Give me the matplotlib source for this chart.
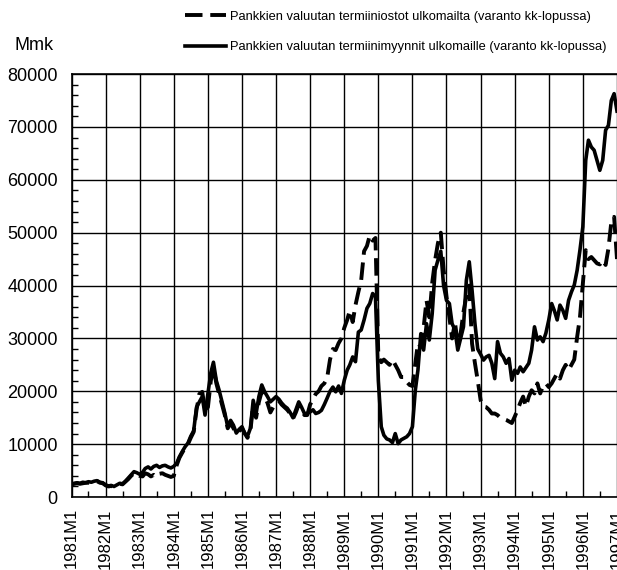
import matplotlib
matplotlib.use("Agg")
import matplotlib.pyplot as plt
import pandas as pd
from matplotlib.ticker import MultipleLocator

plt.rcParams["font.family"] = ["Liberation Sans", "DejaVu Sans"]

# month-end stock, Mmk, 1981M1 .. 1997M1
months = pd.date_range("1981-01-01", "1997-01-01", freq="MS")

purchases = [  # termiiniostot ulkomailta (dashed)
    2400, 2500, 2600, 2500, 2600, 2700, 2700, 2800, 2900, 3000, 2700, 2600,
    2200, 2000, 2100, 1900, 2200, 2500, 2400, 2900, 3400, 4000, 4500, 4400,
    4000, 3900, 4500, 4300, 3900, 4200, 3800, 4400, 4500, 4200, 4000, 3800,
    4000, 6000, 7400, 8400, 9300, 10000, 11200, 12300, 16500, 19500, 19900, 16400,
    17000, 22000, 24500, 21500, 19500, 17500, 15500, 13000, 14000, 13000, 12000, 12500,
    13000, 12000, 11200, 12500, 17500, 15000, 18000, 20000, 19000, 17800, 16000, 17000,
    18000, 18200, 17500, 17000, 16500, 15800, 14800, 16000, 17500, 16500, 15500, 15500,
    17500, 18500, 19500, 20000, 21000, 21500, 22500, 26000, 28000, 27800, 29100, 30000,
    32000, 33500, 35300, 33100, 36300, 38800, 41000, 46500, 47500, 49500, 48500, 49000,
    26500, 25500, 26000, 25500, 25000, 26000, 25000, 24000, 22700, 22700, 21800, 21200,
    21000, 25300, 29100, 28400, 32000, 37200, 34000, 40500, 44800, 48000, 50000, 43000,
    38000, 34000, 30000, 33000, 29000, 31000, 35000, 38000, 40000, 29000, 25300, 22000,
    18300, 17100, 17000, 16500, 15800, 15800, 15500, 15000, 14800, 14600, 14300, 14000,
    15200, 16500, 17800, 19000, 17100, 19000, 20200, 19600, 21500, 19600, 21000, 21500,
    20800, 21500, 22400, 23400, 22400, 24000, 25000, 24000, 25000, 26000, 30300, 34000,
    40400, 46700, 45000, 45400, 44800, 44200, 44000, 44800, 43900, 47000, 52000, 53000,
    45000,
]

sales = [  # termiinimyynnit ulkomaille (solid)
    2500, 2600, 2700, 2600, 2800, 2700, 2900, 2800, 3000, 3100, 2800, 2700,
    2300, 2100, 2200, 2000, 2300, 2600, 2500, 3000, 3600, 4200, 4800, 4600,
    4300, 4700, 5400, 5700, 5300, 5800, 6000, 5600, 5900, 6000, 5700, 5500,
    5800, 6400, 7600, 8600, 9500, 10200, 11500, 12500, 17000, 18000, 19000, 15500,
    19600, 23500, 25500, 22000, 20200, 18000, 15900, 13300, 14500, 13600, 12100, 12800,
    13300, 12000, 11500, 13000, 18300, 15800, 19000, 21200, 19900, 19000, 18000, 18500,
    19000, 18500, 17800, 17200, 16800, 16000, 15000, 16500, 18000, 17000, 15800, 15800,
    16100, 16500, 15800, 16000, 16400, 17500, 18700, 20000, 20800, 19900, 21000, 19600,
    22100, 24000, 25000, 26500, 25600, 31200, 31600, 33500, 35700, 36600, 38500, 37900,
    22000, 13300, 11700, 11000, 10800, 10300, 12000, 10100, 10800, 11100, 11400, 12000,
    13300, 20200, 24000, 30900, 27800, 32800, 29700, 34700, 42900, 44800, 46500, 40000,
    37200, 36600, 32800, 31600, 27800, 30000, 32200, 41000, 44500, 39100, 32800, 28000,
    27000, 25900, 26500, 26800, 25300, 22400, 29400, 27200, 26500, 25300, 26200, 22100,
    24000, 23400, 24600, 23700, 24500, 25300, 27800, 32200, 29700, 30300, 29400, 31000,
    33500, 36600, 35300, 33500, 36300, 35300, 33800, 37200, 38800, 40100, 42900, 46700,
    51100, 63700, 67500, 66200, 65600, 63700, 61800, 63700, 69400, 70300, 75000, 76300,
    73000,
]

label_purchases = "Pankkien valuutan termiiniostot ulkomailta (varanto kk-lopussa)"
label_sales = "Pankkien valuutan termiinimyynnit ulkomaille (varanto kk-lopussa)"

years = pd.date_range("1981-01-01", "1997-01-01", freq="YS")
half_years = pd.date_range("1981-07-01", "1996-07-01", freq="12MS")

fig = plt.figure(figsize=(6.17, 5.70), dpi=100)
ax = fig.add_axes([0.116, 0.128, 0.884, 0.742])

l1, = ax.plot(months, purchases, color="black", lw=2.8, dashes=(4.5, 2),
              solid_capstyle="butt", dash_capstyle="butt")
l2, = ax.plot(months, sales, color="black", lw=2.6)

ax.set_xlim(months[0], months[-1])
ax.set_ylim(0, 80000)
ax.set_yticks(range(0, 80001, 10000))
ax.yaxis.set_minor_locator(MultipleLocator(2000))
ax.set_xticks(years)
ax.set_xticklabels([f"{d.year}M1" for d in years], rotation=90, fontsize=12)
ax.set_xticks(half_years, minor=True)
ax.tick_params(axis="y", labelsize=13)
ax.tick_params(which="both", direction="in", color="black")
ax.tick_params(which="major", length=0)
ax.tick_params(axis="y", which="major", pad=10)
ax.tick_params(which="minor", length=4, width=1)
ax.tick_params(axis="x", which="major", pad=8)
ax.grid(True, color="black", lw=1)
for s in ax.spines.values():
    s.set_linewidth(1.2)
ax.spines["right"].set_visible(False)

fig.text(0.024, 0.921, "Mmk", fontsize=13, va="center")
fig.legend([l1, l2], [label_purchases, label_sales], loc="upper left",
           bbox_to_anchor=(0.287, 0.995), frameon=False, fontsize=9.3,
           handlelength=3.2, handletextpad=0.3, labelspacing=1.45,
           borderaxespad=0.2)

fig.savefig("out.png", dpi=100)
